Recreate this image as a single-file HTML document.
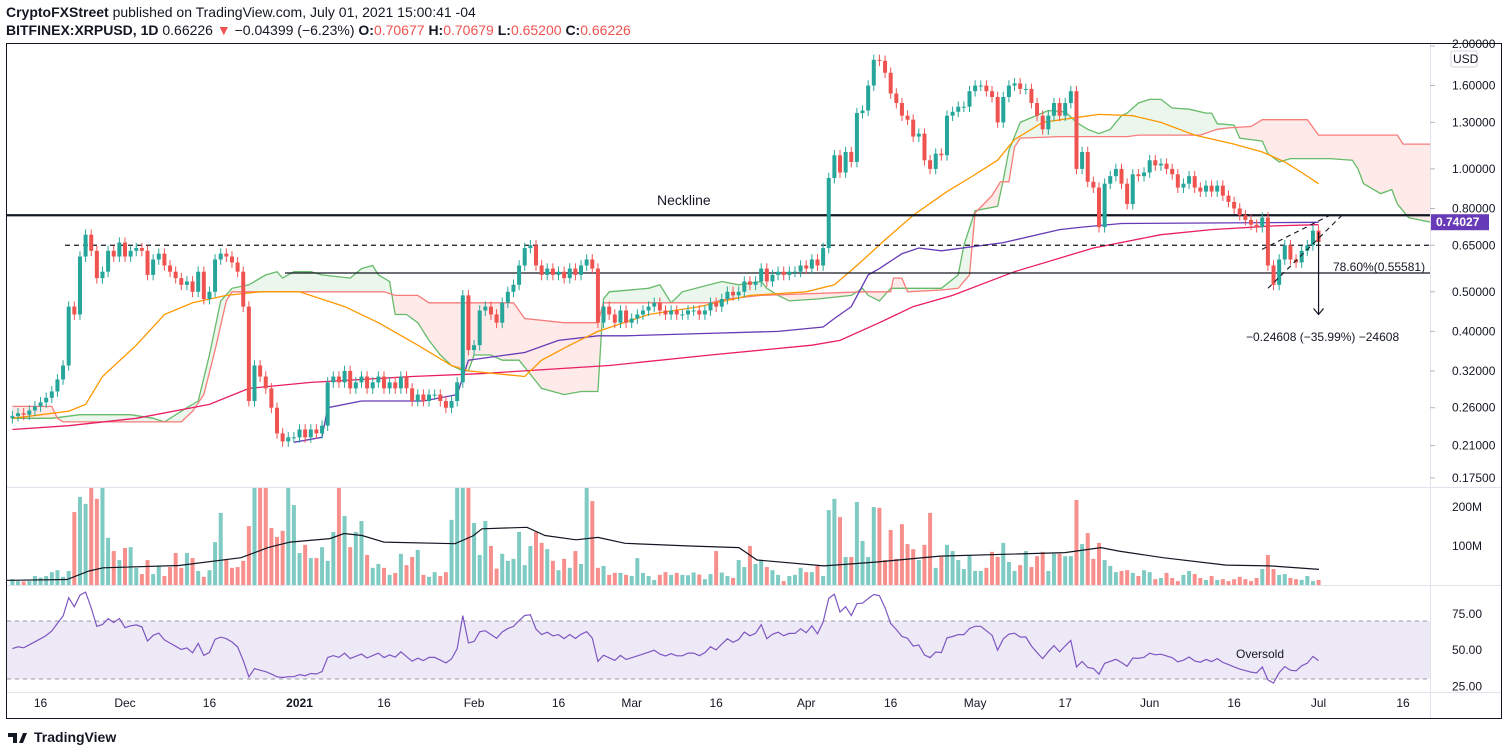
<!DOCTYPE html>
<html><head><meta charset="utf-8"><style>
html,body{margin:0;padding:0;background:#fff;}
svg{display:block;font-family:"Liberation Sans",Arial,sans-serif;}
</style></head><body>
<svg id="c" width="1508" height="755" viewBox="0 0 1508 755" xmlns="http://www.w3.org/2000/svg">
<rect x="0" y="0" width="1508" height="755" fill="#fff"/>
<text x="6" y="17" font-size="14" fill="#131722"><tspan font-weight="bold">CryptoFXStreet</tspan> published on TradingView.com, July 01, 2021 15:00:41 -04</text>
<text x="6" y="35" font-size="14" fill="#131722"><tspan font-weight="bold">BITFINEX:XRPUSD, 1D</tspan> 0.66226 <tspan fill="#ef5350">▼</tspan> −0.04399 (−6.23%) <tspan font-weight="bold">O:</tspan><tspan fill="#ef5350">0.70677</tspan> <tspan font-weight="bold">H:</tspan><tspan fill="#ef5350">0.70679</tspan> <tspan font-weight="bold">L:</tspan><tspan fill="#ef5350">0.65200</tspan> <tspan font-weight="bold">C:</tspan><tspan fill="#ef5350">0.66226</tspan></text>
<rect x="6.5" y="43.5" width="1495" height="675" fill="none" stroke="#131722" stroke-width="1"/>
<line x1="1430.5" y1="44" x2="1430.5" y2="718" stroke="#e0e3eb"/>
<line x1="7" y1="487.5" x2="1501" y2="487.5" stroke="#e0e3eb"/>
<line x1="7" y1="585.5" x2="1501" y2="585.5" stroke="#e0e3eb"/>
<line x1="7" y1="692.5" x2="1501" y2="692.5" stroke="#e0e3eb"/>
<defs>
<clipPath id="pc"><rect x="7" y="44" width="1423" height="443"/></clipPath>
<clipPath id="vc"><rect x="7" y="488" width="1423" height="97"/></clipPath>
<clipPath id="rc"><rect x="7" y="586" width="1423" height="106"/></clipPath>
</defs>
<g id="price" clip-path="url(#pc)"></g>
<g id="vol" clip-path="url(#vc)"></g>
<g id="rsi" clip-path="url(#rc)"></g>
<g id="axes"></g>
<text x="34" y="742" font-size="14" font-weight="bold" fill="#131722">TradingView</text>
<path d="M8 733h9v10h-4v-6h-5z M19 743l4-10h4l-4 10z" fill="#131722"/>
</svg>
<script>
const closes = [
0.248,0.252,0.250,0.256,0.262,0.268,0.275,0.285,0.305,0.330,0.460,0.440,0.610,0.690,0.630,0.540,0.560,0.630,0.610,0.660,
0.610,0.630,0.640,0.630,0.550,0.600,0.620,0.580,0.560,0.540,0.520,0.530,0.500,0.560,0.480,0.500,0.600,0.620,0.610,0.590,0.560,0.460,0.270,0.330,0.310,0.290,0.260,0.225,0.215,0.220,0.220,
0.230,0.220,0.230,0.225,0.235,0.300,0.310,0.300,0.320,0.290,0.300,0.310,0.290,0.300,0.310,0.290,0.300,0.290,0.310,0.290,0.270,0.280,0.270,0.280,0.280,0.270,0.260,0.270,0.300,0.490,0.360,
0.370,0.450,0.460,0.440,0.420,0.470,0.500,0.520,0.580,0.640,0.650,0.580,0.550,0.570,0.550,0.560,0.540,0.570,0.550,0.580,0.600,0.570,0.420,0.460,0.440,0.420,0.450,0.420,
0.430,0.440,0.450,0.460,0.470,0.450,0.440,0.450,0.440,0.440,0.450,0.450,0.440,0.450,0.470,0.460,0.480,0.500,0.490,0.500,0.530,0.520,0.530,0.570,0.530,0.550,0.560,0.550,0.560,0.560,0.580,
0.570,0.600,0.580,0.640,0.950,1.080,0.980,1.100,1.040,1.370,1.390,1.600,1.850,1.840,1.720,1.530,1.450,1.350,1.320,1.200,1.220,1.050,1.000,1.090,1.080,1.350,1.380,1.420,1.420,1.550,
1.600,1.600,1.550,1.500,1.300,1.500,1.600,1.620,1.570,1.570,1.450,1.350,1.250,1.350,1.450,1.350,1.450,1.550,1.000,1.100,0.930,0.900,0.720,0.920,0.960,1.000,0.920,0.820,0.970,0.960,0.980,
1.050,1.020,1.030,1.000,0.970,0.900,0.920,0.960,0.900,0.880,0.910,0.880,0.910,0.860,0.830,0.800,0.770,0.750,0.730,0.720,0.760,0.580,0.520,0.600,0.650,0.600,0.590,0.630,0.650,0.706,
0.662];
const firstOpen = 0.245;
const volumes = [
15,10,9,10,23,19,23,33,38,21,36,187,226,208,300,221,300,121,87,64,95,97,44,28,64,28,49,23,46,82,44,82,69,36,21,38,110,185,67,44,46,62,151,300,300,300,146,123,139,300,205,82,103,69,69,97,62,136,300,177,97,136,164,77,44,54,44,26,31,80,51,72,90,26,21,33,23,33,167,300,300,300,159,77,164,100,42,80,62,67,136,51,100,136,108,92,62,38,67,44,87,54,300,215,44,49,26,31,31,26,23,69,31,23,13,26,33,26,31,26,
25,32,27,15,28,87,32,23,18,64,46,100,54,64,46,38,26,10,23,26,44,33,33,49,23,192,221,174,72,72,213,113,72,200,198,64,141,67,156,105,92,64,103,185,44,72,103,87,64,41,77,36,36,44,85,72,108,59,36,51,87,46,74,85,36,80,80,74,74,218,105,133,67,108,64,49,33,36,38,31,23,38,33,15,18,31,18,10,26,36,28,18,13,23,13,15,10,15,21,15,10,18,41,77,41,26,28,18,15,13,23,10,13];
const volMaDays = [0,9,67,89,103,179,241,268,290,330,344,362,384,455,473,482,527,545,576,598,625,690,739,757,824,877,940,1065,1101,1119,1163,1226,1270,1319];
const volMaVals = [12,12,14,36,44,50,70,96,110,119,132,127,110,106,126,144,148,127,116,122,107,100,96,64,49,59,74,83,96,87,70,51,49,40];
const ma50Days = [0,10,13,16,22,27,32,38,44,51,59,65,72,78,81,91,94,99,104,113,122,131,141,146,150,155,160,166,170,175,178,183,188,193,199,204,210,217,222,226,229,232];
const ma50Vals = [0.245,0.255,0.265,0.31,0.37,0.44,0.47,0.49,0.50,0.50,0.46,0.42,0.37,0.33,0.32,0.31,0.34,0.37,0.40,0.44,0.46,0.49,0.50,0.52,0.58,0.67,0.77,0.88,0.95,1.05,1.18,1.30,1.33,1.36,1.35,1.30,1.21,1.15,1.10,1.04,0.98,0.92];
const ma100Days = [50,55,56,62,73,79,81,91,97,104,109,122,136,144,146,149,152,154,158,161,165,176,186,190,197,232];
const ma100Vals = [0.214,0.22,0.26,0.27,0.27,0.28,0.34,0.355,0.38,0.39,0.39,0.395,0.40,0.41,0.43,0.46,0.55,0.57,0.62,0.64,0.63,0.66,0.71,0.72,0.735,0.74];
const ma200Days = [0,10,22,35,42,53,71,83,106,124,142,147,154,160,167,178,192,204,213,224,232];
const ma200Vals = [0.23,0.235,0.245,0.265,0.29,0.30,0.31,0.315,0.33,0.35,0.37,0.38,0.42,0.46,0.49,0.56,0.64,0.69,0.71,0.725,0.73];
const spanADays = [0,7,12,21,25,27,31,33,35,37,39,42,45,47,48,50,53,55,60,62,64,65,67,68,70,72,74,76,78,80,81,82,85,87,90,94,98,101,104,105,106,113,115,117,119,126,129,133,134,136,138,143,149,151,152,154,156,165,168,169,171,175,176,177,179,184,187,189,191,193,195,197,198,200,202,204,206,209,212,213,214,217,218,222,223,225,227,234,238,239,240,243,245,246,248,252];
const spanAVals = [0.245,0.245,0.25,0.25,0.245,0.24,0.26,0.27,0.35,0.475,0.51,0.52,0.55,0.56,0.54,0.56,0.56,0.55,0.54,0.57,0.58,0.55,0.53,0.44,0.44,0.42,0.38,0.35,0.33,0.32,0.32,0.35,0.35,0.34,0.34,0.29,0.28,0.285,0.285,0.48,0.50,0.51,0.52,0.47,0.50,0.53,0.52,0.53,0.51,0.49,0.475,0.48,0.49,0.51,0.49,0.475,0.51,0.51,0.55,0.65,0.79,0.81,0.94,1.11,1.30,1.39,1.38,1.30,1.25,1.22,1.25,1.35,1.37,1.45,1.48,1.48,1.41,1.40,1.37,1.37,1.29,1.28,1.19,1.17,1.09,1.04,1.06,1.06,1.05,1.0,0.92,0.87,0.89,0.82,0.76,0.74];
const spanBDays = [0,7,8,9,30,32,34,36,38,39,66,68,72,74,89,91,98,104,105,124,127,133,151,156,156.5,158,159,165,168,170,171,174,175.5,177,178,179,186,198,200,211,214,216,220,222,230,232,246,247,252];
const spanBVals = [0.262,0.262,0.245,0.24,0.24,0.255,0.28,0.36,0.475,0.50,0.50,0.49,0.49,0.47,0.47,0.43,0.42,0.42,0.47,0.47,0.48,0.49,0.50,0.50,0.54,0.54,0.50,0.505,0.51,0.55,0.78,0.86,0.93,0.93,1.13,1.19,1.20,1.20,1.21,1.21,1.25,1.26,1.27,1.32,1.32,1.21,1.21,1.15,1.15];
const priceTicks = [2.0,1.6,1.3,1.0,0.8,0.65,0.5,0.4,0.32,0.26,0.21,0.175];
const volTicks = [200,100];
const volTickLabels = ["200M","100M"];
const rsiTicks = [75,50,25];
const dateLabelDays = [5,20,35,51,66,82,97,110,125,141,156,171,187,202,217,232,247];
const dateLabels = ["16","Dec","16","2021","16","Feb","16","Mar","16","Apr","16","May","17","Jun","16","Jul","16"];
const necklinePrice = 0.77;
const dashedLevel = 0.65;
const fibLevel = 0.55581;
const lastPrice = 0.74027;

const NS = "http://www.w3.org/2000/svg";
function mk(tag, attrs, parent){const e=document.createElementNS(NS,tag);for(const k in attrs)e.setAttribute(k,attrs[k]);parent.appendChild(e);return e;}
const X = i => 125 + (i-20)*5.63;
const XPX = x => x;
const YP = p => 46 + (Math.log(2) - Math.log(p))*177.3;
const YV = v => 585 - v*0.39;
const YR = r => 621 - (r-70)*1.45;
const P = document.getElementById('price'), V = document.getElementById('vol'), R = document.getElementById('rsi'), A = document.getElementById('axes');
const UP = '#26a69a', DN = '#ef5350';
function interp(days, vals, d){ if(d<=days[0])return vals[0]; for(let k=1;k<days.length;k++){ if(d<=days[k]){const t=(d-days[k-1])/(days[k]-days[k-1]||1);return vals[k-1]+(vals[k]-vals[k-1])*t;} } return vals[vals.length-1]; }

for(let d=0; d<252; d++){
  const a0=interp(spanADays,spanAVals,d),a1=interp(spanADays,spanAVals,d+1),b0=interp(spanBDays,spanBVals,d),b1=interp(spanBDays,spanBVals,d+1);
  const g=(a0+a1)>=(b0+b1);
  const q=mk('polygon',{points:`${X(d)},${YP(a0)} ${X(d+1)},${YP(a1)} ${X(d+1)},${YP(b1)} ${X(d)},${YP(b0)}`,fill:g?'rgba(76,175,80,0.11)':'rgba(244,67,54,0.11)',stroke:'none'},P);
  
  
}
function line(days, vals, color, name, w){
  let d='';for(let k=0;k<days.length;k++)d+=(k?'L':'M')+X(days[k]).toFixed(1)+' '+YP(vals[k]).toFixed(1);
  const e=mk('path',{d:d,fill:'none',stroke:color,'stroke-width':w||1.3},P);
  
  
}
line(spanADays,spanAVals,'#66bb6a','ichimoku-span-a');
line(spanBDays,spanBVals,'#f77c7a','ichimoku-span-b');
line(ma200Days,ma200Vals,'#e91e63','ma-200-line');
line(ma100Days,ma100Vals,'#673ab7','ma-100-line');
line(ma50Days,ma50Vals,'#ff9800','ma-50-line');

const nk=mk('line',{x1:7,x2:1430,y1:YP(necklinePrice),y2:YP(necklinePrice),stroke:'#131722','stroke-width':2.2},P);


const dl=mk('line',{x1:65,x2:1430,y1:YP(dashedLevel),y2:YP(dashedLevel),stroke:'#131722','stroke-width':1.2,'stroke-dasharray':'5 4'},P);


const fl=mk('line',{x1:285,x2:1430,y1:YP(fibLevel),y2:YP(fibLevel),stroke:'#131722','stroke-width':1.2},P);



for(let i=0;i<closes.length;i++){
  const o=i?closes[i-1]:firstOpen, c=closes[i], col=c>=o?UP:DN;
  const hi=Math.max(o,c)*1.03, lo=Math.min(o,c)*0.97, x=X(i);
  const w=mk('line',{x1:x,x2:x,y1:YP(hi),y2:YP(lo),stroke:col,'stroke-width':1},P);
  
  
  const yt=YP(Math.max(o,c)), yb=YP(Math.min(o,c));
  const b=mk('rect',{x:x-2,y:yt,width:4,height:Math.max(1,yb-yt),fill:col},P);
  
  
}

const wedge=[[1262,YP(0.635),1330,YP(0.77)],[1268,YP(0.51),1342,YP(0.77)]];
for(const s of wedge){
  const e=mk('line',{x1:s[0],y1:s[1],x2:s[2],y2:s[3],stroke:'#131722','stroke-width':1.1,'stroke-dasharray':'5 4'},P);
  
  
}
const ar=mk('path',{d:`M${X(232)} ${YP(0.70)}V${YP(0.44)}M${X(232)-5} ${YP(0.44)-6}L${X(232)} ${YP(0.44)}L${X(232)+5} ${YP(0.44)-6}`,stroke:'#131722','stroke-width':1.2,fill:'none'},P);


function txt(x,y,s,parent,attrs){const e=mk('text',Object.assign({x:x,y:y,'font-size':12,fill:'#131722'},attrs||{}),parent);e.textContent=s;return e;}
let t=txt(657,205,'Neckline',P,{'font-size':14});


t=txt(1333,271,'78.60%(0.55581)',P,{});


t=txt(1246,341,'−0.24608 (−35.99%) −24608',P,{});



for(let i=0;i<volumes.length;i++){
  const o=i?closes[i-1]:firstOpen, c=closes[i];
  const y=YV(volumes[i]);
  const b=mk('rect',{x:X(i)-2,y:y,width:4,height:585-y,fill:c>=o?'#7fcbc3':'#f7908d'},V);
  
  
}
let vd='';volMaDays.forEach((px,k)=>vd+=(k?'L':'M')+XPX(px).toFixed(1)+' '+YV(volMaVals[k]).toFixed(1));
const vl=mk('path',{d:vd,fill:'none',stroke:'#131722','stroke-width':1.2},V);



const band=mk('rect',{x:7,y:YR(70),width:1423,height:YR(30)-YR(70),fill:'rgba(126,87,194,0.13)'},R);


for(const lv of [70,30]){
  const e=mk('line',{x1:7,x2:1430,y1:YR(lv),y2:YR(lv),stroke:'#9598a1','stroke-width':1,'stroke-dasharray':'4 4'},R);
  
  
}
const rsiV=[];let ag=0.006,al=0.006,prev=firstOpen;
for(let i=0;i<closes.length;i++){
  const ch=closes[i]-prev;prev=closes[i];
  const g=Math.max(ch,0),l=Math.max(-ch,0);
  ag=(ag*13+g)/14;al=(al*13+l)/14;
  rsiV.push(al===0?100:100-100/(1+ag/al));
}
let rd='';rsiV.forEach((v,i)=>rd+=(i?'L':'M')+X(i).toFixed(1)+' '+YR(v).toFixed(1));
const rl=mk('path',{d:rd,fill:'none',stroke:'#7e57c2','stroke-width':1.2},R);


t=txt(1236,658,'Oversold',R,{});



for(const p of priceTicks){
  const y=YP(p);
  const tk=mk('line',{x1:1430,x2:1435,y1:y,y2:y,stroke:'#b2b5be'},A);
  
  
  t=txt(1452,y<47?y+2:y+4,p.toFixed(5),A,{});
  
  
}
const usd=mk('rect',{x:1451,y:51,width:26,height:16,rx:2,fill:'#fff',stroke:'#d1d4dc'},A);


t=txt(1453,63,'USD',A,{});


const pb=mk('rect',{x:1431,y:YP(lastPrice)-8,width:58,height:16,fill:'#673ab7'},A);


t=txt(1436,YP(lastPrice)+4,lastPrice.toFixed(5),A,{fill:'#fff','font-weight':'bold'});


volTicks.forEach((v,k)=>{
  t=txt(1452,YV(v)+4,volTickLabels[k],A,{});
  
  
});
rsiTicks.forEach(v=>{
  t=txt(1452,YR(v)+4,v.toFixed(2),A,{});
  
  
});
dateLabelDays.forEach((d,k)=>{
  t=txt(X(d),707,dateLabels[k],A,{'text-anchor':'middle','font-weight':dateLabels[k]==='2021'?'bold':'normal'});
  
  
});
</script>
</body></html>
